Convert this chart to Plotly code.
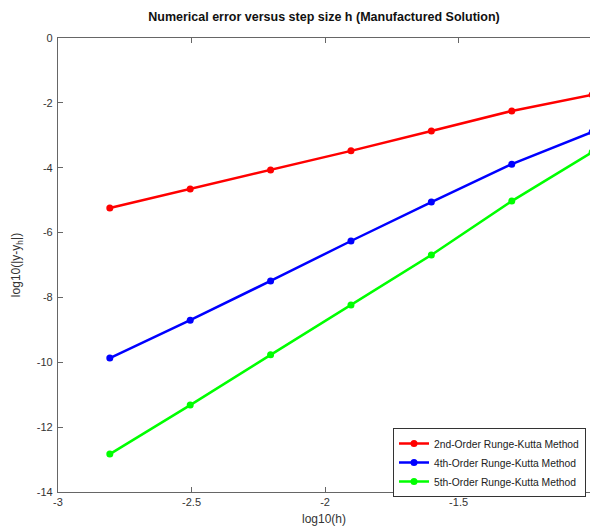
import plotly.graph_objects as go

log_h = [-2.806, -2.505, -2.204, -1.903, -1.602, -1.301, -1.0]
rk2 = [-5.24, -4.66, -4.07, -3.48, -2.87, -2.25, -1.75]
rk4 = [-9.87, -8.70, -7.49, -6.26, -5.06, -3.89, -2.90]
rk5 = [-12.83, -11.32, -9.77, -8.23, -6.69, -5.03, -3.52]
names = ["2nd-Order Runge-Kutta Method", "4th-Order Runge-Kutta Method", "5th-Order Runge-Kutta Method"]
colors = ["#ff0000", "#0000ff", "#00ff00"]
x_ticks = [-3, -2.5, -2, -1.5]
y_ticks = [0, -2, -4, -6, -8, -10, -12, -14]

fig = go.Figure()
for ys, name, c in zip([rk2, rk4, rk5], names, colors):
    fig.add_trace(go.Scatter(x=log_h, y=ys, mode="lines+markers", name=name,
                             line=dict(color=c, width=2.5),
                             marker=dict(color=c, size=7)))

fig.update_layout(
    width=590, height=528,
    margin=dict(l=58, r=0, t=38, b=36, autoexpand=False),
    paper_bgcolor="white", plot_bgcolor="white",
    font=dict(family="Liberation Sans, Arial, sans-serif", size=11, color="#333333"),
    title=dict(text="<b>Numerical error versus step size h (Manufactured Solution)</b>",
               x=0.5, xref="paper", y=0.968, yref="container", xanchor="center", yanchor="middle",
               font=dict(size=12.5, color="#111111")),
    xaxis=dict(range=[-3, -1.008], tickvals=x_ticks, ticktext=[str(v) for v in x_ticks],
               showgrid=False, zeroline=False, showline=True, linecolor="#666666", linewidth=1.2,
               mirror="ticks", ticks="inside", ticklen=5, tickcolor="#666666",
               title=dict(text="log10(h)", standoff=7, font=dict(size=12))),
    yaxis=dict(range=[-14, 0], tickvals=y_ticks, ticktext=[str(v) for v in y_ticks],
               showgrid=False, zeroline=False, showline=True, linecolor="#666666", linewidth=1.2,
               ticks="inside", ticklen=5, tickcolor="#666666", ticklabelstandoff=2,
               title=dict(text="log10(|y-y<sub>h</sub>|)", standoff=13, font=dict(size=12))),
    legend=dict(x=(393 - 58) / 532, xanchor="left", y=(492 - 428) / 454, yanchor="top", yref="paper",
                bgcolor="white", bordercolor="#333333", borderwidth=1,
                font=dict(size=10.3, color="#222222"), tracegroupgap=0, itemwidth=30),
    showlegend=True,
)
fig.write_html("out.html", config={"displayModeBar": False},
               post_script="document.body.style.margin='0';document.body.style.overflow='hidden';")
